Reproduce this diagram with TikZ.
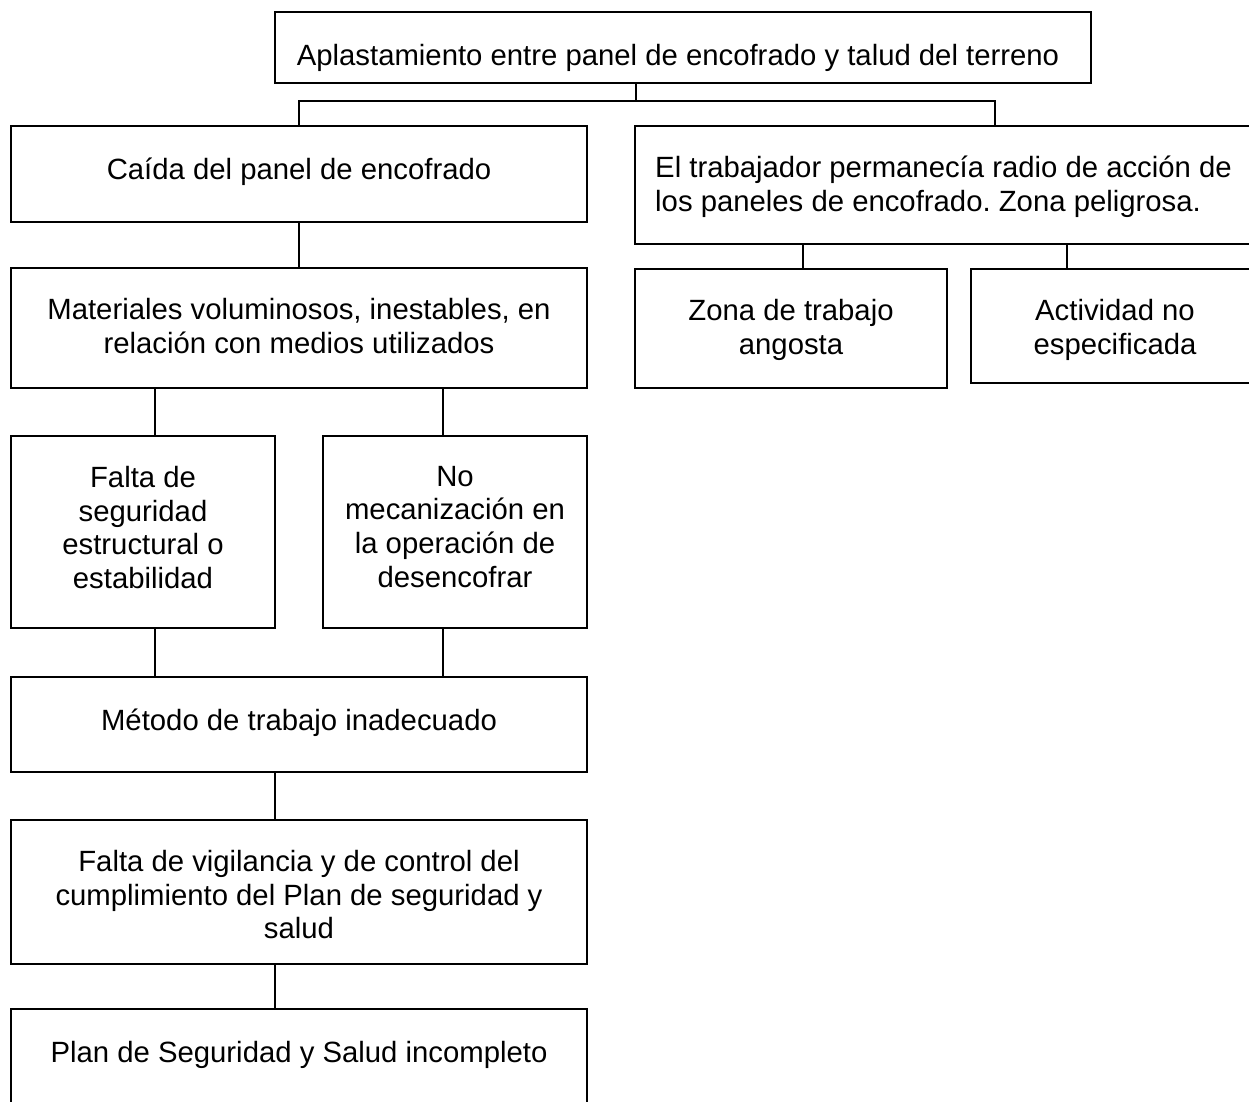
\documentclass[tikz,border=0pt]{standalone}
\usepackage{fontspec}
\setmainfont{Liberation Sans}
\frenchspacing
\begin{document}
\begin{tikzpicture}[x=1pt,y=-1pt,
  box/.style={draw=black, line width=2pt, rectangle, inner sep=0pt},
  txt/.style={font=\fontsize{29.3}{33.6}\selectfont, inner sep=0pt, anchor=north, align=center, execute at begin node=\strut},
  link/.style={draw=black, line width=2pt}]
\clip (0,0) rectangle (1249,1101);
\fill[white] (0,0) rectangle (1249,1101);
% boxes
\node[box, minimum width=816pt, minimum height=71pt] (top) at (683,47.5) {};
\node[box, minimum width=576pt, minimum height=96pt] (caida) at (299,174) {};
\node[box, minimum width=576pt, minimum height=120pt] (mat) at (299,328) {};
\node[box, minimum width=264pt, minimum height=192pt] (fseg) at (143,532) {};
\node[box, minimum width=264pt, minimum height=192pt] (nomec) at (455,532) {};
\node[box, minimum width=576pt, minimum height=95pt] (metodo) at (299,724.5) {};
\node[box, minimum width=576pt, minimum height=144pt] (fvig) at (299,892) {};
\node[box, minimum width=576pt, minimum height=106pt] (plan) at (299,1062) {};
\node[box, minimum width=720pt, minimum height=118pt] (trab) at (995,185) {};
\node[box, minimum width=312pt, minimum height=119pt] (zona) at (791,328.5) {};
\node[box, minimum width=288pt, minimum height=114pt] (activ) at (1115,326) {};
% texts
\node[txt] (ttop) at ([xshift=-5pt,yshift=-31pt]top.north) {Aplastamiento entre panel de encofrado y talud del terreno};
\node[txt] (tcaida) at ([yshift=-31pt]caida.north) {Caída del panel de encofrado};
\node[txt] (tmat) at ([yshift=-31pt]mat.north) {Materiales voluminosos, inestables, en\\relación con medios utilizados};
\node[txt] (tfseg) at ([yshift=-31pt]fseg.north) {Falta de\\seguridad\\estructural o\\estabilidad};
\node[txt] (tnomec) at ([yshift=-31pt]nomec.north) {No\\mecanización en\\la operación de\\desencofrar};
\node[txt] (tmetodo) at ([yshift=-31pt]metodo.north) {Método de trabajo inadecuado};
\node[txt] (tfvig) at ([yshift=-31pt]fvig.north) {Falta de vigilancia y de control del\\cumplimiento del Plan de seguridad y\\salud};
\node[txt] (tplan) at ([yshift=-31pt]plan.north) {Plan de Seguridad y Salud incompleto};
\node[txt, anchor=north west, align=left] (ttrab) at ([xshift=21pt,yshift=-31pt]trab.north west) {El trabajador permanecía radio de acción de\\los paneles de encofrado. Zona peligrosa.};
\node[txt] (tzona) at ([yshift=-31pt]zona.north) {Zona de trabajo\\angosta};
\node[txt] (tactiv) at ([yshift=-31pt]activ.north) {Actividad no\\especificada};
% connectors
\coordinate (j) at (636,101);
\draw[link] (top.south -| j) -- (j);
\draw[link] (caida.north) |- (j) -| (trab.north);
\draw[link] (caida.south) -- (mat.north);
\draw[link] ([xshift=12pt]fseg.north) -- ([xshift=12pt]fseg.north |- mat.south);
\draw[link] ([xshift=-12pt]nomec.north) -- ([xshift=-12pt]nomec.north |- mat.south);
\draw[link] ([xshift=12pt]fseg.south) -- ([xshift=12pt]fseg.south |- metodo.north);
\draw[link] ([xshift=-12pt]nomec.south) -- ([xshift=-12pt]nomec.south |- metodo.north);
\draw[link] ([xshift=-24pt]metodo.south) -- ([xshift=-24pt]metodo.south |- fvig.north);
\draw[link] ([xshift=-24pt]fvig.south) -- ([xshift=-24pt]fvig.south |- plan.north);
\draw[link] ([xshift=12pt]zona.north) -- ([xshift=12pt]zona.north |- trab.south);
\draw[link] ([xshift=-48pt]activ.north) -- ([xshift=-48pt]activ.north |- trab.south);
\end{tikzpicture}
\end{document}
